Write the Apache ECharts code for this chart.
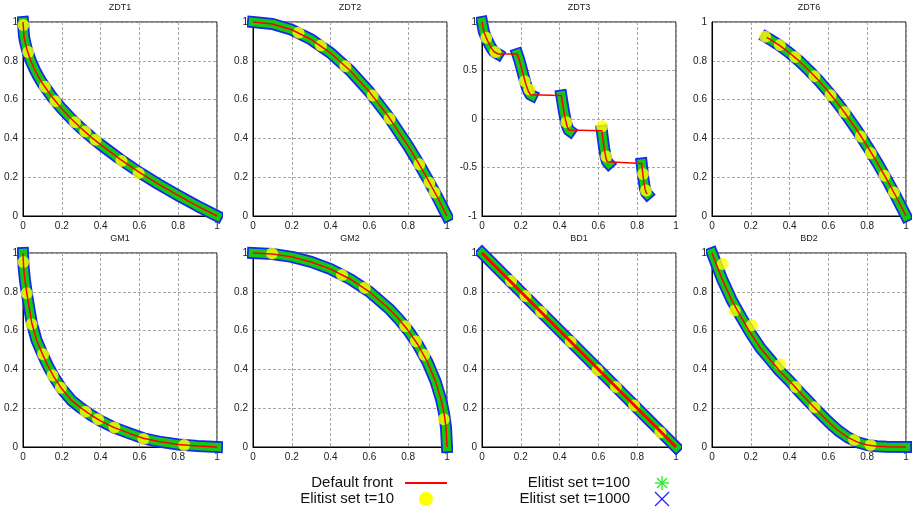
<!DOCTYPE html>
<html>
<head>
<meta charset="utf-8">
<script src="https://cdn.jsdelivr.net/npm/echarts@6/dist/echarts.min.js"></script>
<style>
html, body { margin: 0; padding: 0; background: #fff; }
#chart { width: 914px; height: 510px; }
</style>
</head>
<body>
<div id="chart"></div>
<script>
// tick labels
const unitTicks = [0, 0.2, 0.4, 0.6, 0.8, 1]
const zdt3Ticks = [-1, -0.5, 0, 0.5, 1]

// default fronts (red line); the t=100 / t=1000 sets lie on them
const zdt1Front = [[0, 1], [0.005, 0.929], [0.01, 0.9], [0.02, 0.859], [0.04, 0.8], [0.06, 0.755], [0.08, 0.717], [0.1, 0.684], [0.15, 0.613], [0.2, 0.553], [0.25, 0.5], [0.3, 0.452], [0.35, 0.408], [0.4, 0.368], [0.5, 0.293], [0.6, 0.225], [0.7, 0.163], [0.8, 0.106], [0.9, 0.051], [1, 0]]
const zdt2Front = [[0, 1], [0.1, 0.99], [0.2, 0.96], [0.3, 0.91], [0.4, 0.84], [0.5, 0.75], [0.6, 0.64], [0.7, 0.51], [0.8, 0.36], [0.85, 0.278], [0.9, 0.19], [0.95, 0.098], [1, 0]]
const zdt3Segments = [
  [[0, 1], [0.01, 0.897], [0.02, 0.847], [0.03, 0.803], [0.04, 0.762], [0.05, 0.726], [0.06, 0.698], [0.07, 0.679], [0.083, 0.67]],
  [[0.182, 0.67], [0.19, 0.623], [0.2, 0.553], [0.21, 0.477], [0.22, 0.402], [0.23, 0.334], [0.24, 0.282], [0.25, 0.25], [0.258, 0.242]],
  [[0.409, 0.242], [0.415, 0.167], [0.42, 0.105], [0.425, 0.048], [0.43, -0.004], [0.435, -0.047], [0.44, -0.082], [0.447, -0.114], [0.454, -0.124]],
  [[0.618, -0.122], [0.625, -0.233], [0.63, -0.303], [0.635, -0.363], [0.64, -0.409], [0.645, -0.44], [0.653, -0.458]],
  [[0.823, -0.458], [0.827, -0.53], [0.83, -0.583], [0.835, -0.658], [0.84, -0.716], [0.846, -0.759], [0.852, -0.773]]
]
const zdt6Front = [[0.281, 0.921], [0.3, 0.91], [0.35, 0.878], [0.4, 0.84], [0.45, 0.798], [0.5, 0.75], [0.55, 0.698], [0.6, 0.64], [0.65, 0.578], [0.7, 0.51], [0.75, 0.438], [0.8, 0.36], [0.85, 0.278], [0.9, 0.19], [0.95, 0.098], [1, 0]]
const gm1Front = [[0, 1], [0.003, 0.93], [0.01, 0.86], [0.02, 0.79], [0.03, 0.73], [0.045, 0.64], [0.07, 0.55], [0.1, 0.48], [0.13, 0.415], [0.16, 0.36], [0.2, 0.3], [0.25, 0.24], [0.3, 0.2], [0.35, 0.165], [0.4, 0.135], [0.47, 0.1], [0.55, 0.07], [0.62, 0.045], [0.7, 0.028], [0.8, 0.013], [0.9, 0.005], [1, 0]]
const gm2Front = [[0, 1], [0.1, 0.995], [0.2, 0.98], [0.3, 0.954], [0.4, 0.917], [0.5, 0.866], [0.6, 0.8], [0.7, 0.714], [0.75, 0.661], [0.8, 0.6], [0.85, 0.527], [0.9, 0.436], [0.94, 0.341], [0.97, 0.243], [0.985, 0.172], [0.995, 0.1], [1, 0]]
const bd1Front = [[0, 1], [0.25, 0.75], [0.5, 0.5], [0.75, 0.25], [1, 0]]
const bd2Front = [[0, 1], [0.05, 0.87], [0.1, 0.76], [0.15, 0.67], [0.2, 0.585], [0.25, 0.51], [0.3, 0.45], [0.35, 0.39], [0.4, 0.34], [0.45, 0.285], [0.5, 0.232], [0.55, 0.18], [0.6, 0.13], [0.65, 0.085], [0.7, 0.05], [0.75, 0.025], [0.8, 0.01], [0.85, 0.004], [0.9, 0.001], [1, 0]]

// elitist set t=10 (yellow circles)
const zdt1T10 = [[0.002, 0.985], [0.027, 0.845], [0.113, 0.666], [0.167, 0.591], [0.268, 0.483], [0.321, 0.436], [0.374, 0.393], [0.507, 0.284], [0.596, 0.221]]
const zdt2T10 = [[0.235, 0.945], [0.35, 0.879], [0.476, 0.772], [0.617, 0.621], [0.704, 0.502], [0.857, 0.267], [0.909, 0.172], [0.936, 0.121]]
const zdt3T10 = [[0.022, 0.838], [0.069, 0.69], [0.22, 0.39], [0.244, 0.303], [0.435, -0.034], [0.619, -0.076], [0.641, -0.386], [0.83, -0.566], [0.845, -0.738]]
const zdt6T10 = [[0.274, 0.924], [0.35, 0.881], [0.429, 0.819], [0.528, 0.721], [0.611, 0.622], [0.683, 0.536], [0.767, 0.41], [0.818, 0.324], [0.889, 0.207], [0.938, 0.121]]
const gm1T10 = [[0.002, 0.953], [0.019, 0.793], [0.044, 0.633], [0.104, 0.478], [0.152, 0.368], [0.195, 0.306], [0.323, 0.182], [0.387, 0.143], [0.471, 0.1], [0.621, 0.041], [0.831, 0.01]]
const gm2T10 = [[0.098, 0.997], [0.459, 0.886], [0.576, 0.821], [0.785, 0.622], [0.84, 0.545], [0.883, 0.476], [0.983, 0.143]]
const bd1T10 = [[0.15, 0.856], [0.224, 0.778], [0.305, 0.696], [0.457, 0.543], [0.595, 0.396], [0.69, 0.309], [0.784, 0.214], [0.919, 0.075]]
const bd2T10 = [[0.055, 0.943], [0.116, 0.703], [0.205, 0.627], [0.352, 0.425], [0.431, 0.309], [0.529, 0.205], [0.733, 0.036], [0.817, 0.01]]

const panels = [
  { name: 'ZDT1', segments: [zdt1Front], t10: zdt1T10 },
  { name: 'ZDT2', segments: [zdt2Front], t10: zdt2T10 },
  { name: 'ZDT3', segments: zdt3Segments, t10: zdt3T10, yTicks: zdt3Ticks },
  { name: 'ZDT6', segments: [zdt6Front], t10: zdt6T10 },
  { name: 'GM1', segments: [gm1Front], t10: gm1T10 },
  { name: 'GM2', segments: [gm2Front], t10: gm2T10 },
  { name: 'BD1', segments: [bd1Front], t10: bd1T10, frontWidth: 3 },
  { name: 'BD2', segments: [bd2Front], t10: bd2T10 }
]

const font = 'Liberation Sans, Arial, sans-serif'
const gridLeft = [23, 253, 482, 712]
const gridTop = [22, 253]
const gridSize = 194

const grids = [], xAxes = [], yAxes = [], titles = [], series = []

panels.forEach((p, i) => {
  const left = gridLeft[i % 4]
  const top = gridTop[Math.floor(i / 4)]
  grids.push({ left: left, top: top, width: gridSize, height: gridSize, show: true, borderColor: '#000', borderWidth: 1, backgroundColor: 'transparent' })
  titles.push({
    text: p.name, left: left + gridSize / 2, top: top - 19, textAlign: 'center', padding: 0,
    textStyle: { fontSize: 9, fontWeight: 'normal', color: '#222', fontFamily: font }
  })
  const axisCommon = {
    axisLine: { show: true, onZero: false, lineStyle: { color: '#000', width: 1 } },
    axisTick: { show: false },
    splitLine: { show: true, lineStyle: { color: '#a8a8a8', type: [3, 2], width: 1 } },
    axisLabel: { fontSize: 10, color: '#222', fontFamily: font, margin: 5 }
  }
  xAxes.push(Object.assign({
    type: 'value', gridIndex: i,
    min: unitTicks[0], max: unitTicks[unitTicks.length - 1], interval: unitTicks[1] - unitTicks[0]
  }, axisCommon))
  const yt = p.yTicks || unitTicks
  yAxes.push(Object.assign({
    type: 'value', gridIndex: i,
    min: yt[0], max: yt[yt.length - 1], interval: yt[1] - yt[0]
  }, axisCommon))

  p.segments.forEach(seg => {
    series.push({
      name: 'Elitist set t=1000', type: 'line', xAxisIndex: i, yAxisIndex: i, data: seg,
      symbol: 'none', clip: false, silent: true, z: 1,
      lineStyle: { color: '#1428f0', width: 12, join: 'round', cap: 'square' }
    })
    series.push({
      name: 'Elitist set t=100', type: 'line', xAxisIndex: i, yAxisIndex: i, data: seg,
      symbol: 'none', clip: false, silent: true, z: 2,
      lineStyle: { color: '#14c814', width: 8.5, join: 'round', cap: 'square' }
    })
  })
  series.push({
    name: 'Elitist set t=10', type: 'scatter', xAxisIndex: i, yAxisIndex: i, data: p.t10,
    symbol: 'circle', symbolSize: 12, clip: false, silent: true, z: 3,
    itemStyle: { color: '#ffff00' }
  })
  series.push({
    name: 'Default front', type: 'line', xAxisIndex: i, yAxisIndex: i, data: [].concat(...p.segments),
    symbol: 'none', clip: false, silent: true, z: 4,
    lineStyle: { color: '#ff0000', width: p.frontWidth || 1.5 }
  })
})

// legend drawn as graphics so text is right-aligned next to its key
const legendText = (text, x, y) => ({
  type: 'text', x: x, y: y,
  style: { text: text, fontSize: 15, fontFamily: font, fill: '#111', align: 'right', verticalAlign: 'middle' }
})
const seg = (x1, y1, x2, y2, color, w) => ({
  type: 'line', shape: { x1: x1, y1: y1, x2: x2, y2: y2 }, style: { stroke: color, lineWidth: w }
})
const graphic = [
  legendText('Default front', 393, 483),
  seg(405, 483, 447, 483, '#ff0000', 2),
  legendText('Elitist set t=10', 394, 499),
  { type: 'circle', shape: { cx: 426, cy: 499, r: 7 }, style: { fill: '#ffff00' } },
  legendText('Elitist set t=100', 630, 483),
  seg(655, 483, 669, 483, '#22ee22', 1.3),
  seg(662, 476, 662, 490, '#22ee22', 1.3),
  seg(657, 478, 667, 488, '#22ee22', 1.3),
  seg(657, 488, 667, 478, '#22ee22', 1.3),
  legendText('Elitist set t=1000', 630, 499),
  seg(655, 492, 669, 506, '#2222ff', 1.3),
  seg(655, 506, 669, 492, '#2222ff', 1.3)
]

const chart = echarts.init(document.getElementById('chart'), null, { renderer: 'canvas' })
chart.setOption({
  backgroundColor: '#fff',
  animation: false,
  title: titles,
  grid: grids,
  xAxis: xAxes,
  yAxis: yAxes,
  series: series,
  graphic: graphic
})
</script>
</body>
</html>
